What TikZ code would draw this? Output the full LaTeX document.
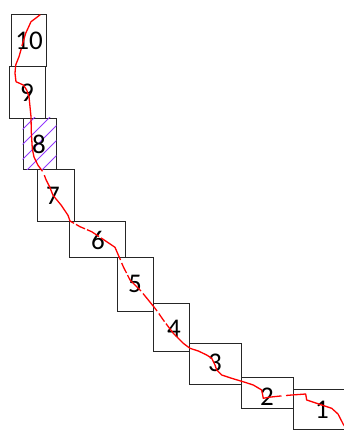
\documentclass[tikz,border=0pt]{standalone}
\usepackage{fontspec}
\setmainfont{Carlito}
\begin{document}
\begin{tikzpicture}[x=1pt,y=-1pt,
  boxnode/.style={draw=black!85,line width=0.9pt,inner sep=0pt,minimum width=#1},
  numtext/.style={inner sep=0pt,font=\fontsize{27}{32}\selectfont},
  trail/.style={draw=red,line width=1.3pt,line join=round,line cap=butt},
  hatchline/.style={draw={rgb,255:red,145;green,55;blue,255},line width=0.9pt}]
\useasboundingbox (0,0) rectangle (344,432);
\clip (0,0) rectangle (344,432);
% boxes
\node[boxnode=35pt,minimum height=52pt] (b10) at (28.5,40) {};
\node[boxnode=36pt,minimum height=52pt] (b9) at (27,92) {};
\node[boxnode=33pt,minimum height=51pt] (b8) at (39.5,143.5) {};
\node[boxnode=37pt,minimum height=52pt] (b7) at (55.5,195) {};
\node[boxnode=56pt,minimum height=36pt] (b6) at (97,239) {};
\node[boxnode=36pt,minimum height=54pt] (b5) at (135,284) {};
\node[boxnode=36pt,minimum height=48pt] (b4) at (171,327) {};
\node[boxnode=52pt,minimum height=41pt] (b3) at (215,363.5) {};
\node[boxnode=52pt,minimum height=31pt] (b2) at (267,392.5) {};
\node[boxnode=58pt,minimum height=40pt] (b1) at (322,409) {};
% hatching of box 8
\begin{scope}
  \clip (b8.south west) rectangle (b8.north east);
  \foreach \s in {152,167,182,197,212}
    {\draw[hatchline] (\s-172,172) -- (\s-115,115);}
\end{scope}
% labels
\node[numtext] (n10) at (29,41) {10};
\node[numtext] (n9) at (27,93) {9};
\node[numtext] (n8) at (39,144) {8};
\node[numtext] (n7) at (53,196) {7};
\node[numtext] (n6) at (98,240) {6};
\node[numtext] (n5) at (135,284) {5};
\node[numtext] (n4) at (174,329) {4};
\node[numtext] (n3) at (215,363) {3};
\node[numtext] (n2) at (267,397) {2};
\node[numtext] (n1) at (322,410) {1};
% red trail
\draw[trail] (40.3,14.7) -- (31,21.7) -- (25.7,33.3) -- (21.9,46);
\draw[trail] (21.2,49) -- (19,56.7) -- (15.7,65) -- (15,73.3) -- (16,81.7) -- (23.3,85) -- (26.7,90) -- (29,96.7) -- (30,106.7) -- (31,116.7) -- (31.3,132) -- (32.3,148.7) -- (34,157) -- (38,165.3) -- (42.5,171.3);
\draw[trail] (44.3,175.2) -- (46.3,180.3) -- (49.7,187) -- (53,195.3) -- (61.3,205.3) -- (68,215.3) -- (70,221) -- (74,223.3);
\draw[trail] (76,224.4) -- (80,226.7) -- (85,228.8);
\draw[trail] (87,229.7) -- (91.7,231.7) -- (99,236.5);
\draw[trail] (101,237.9) -- (106.7,241.7) -- (115,247.3) -- (118.3,255) -- (120.5,260);
\draw[trail] (121.7,263) -- (123.3,266.7) -- (126.5,273);
\draw[trail] (127.5,275) -- (130,280) -- (140,290) -- (141,291);
\draw[trail] (143,293.5) -- (148.3,300) -- (155,308.3) -- (157,311);
\draw[trail] (158.8,313.5) -- (163.3,320) -- (164.5,321.6);
\draw[trail] (166,323.6) -- (173.3,333.3) -- (183.3,343.3) -- (190,348.3) -- (198.3,351) -- (206.7,355) -- (211.7,358.3) -- (215,365) -- (216.7,370) -- (221.7,375) -- (231.7,378.3) -- (245,382.3) -- (253.3,385) -- (261.7,390) -- (263.3,398.3) -- (268.3,397.3) -- (281.5,395.9);
\draw[trail] (286,395.5) -- (291.7,395) -- (305.7,394) -- (306.7,400) -- (316.7,403.3) -- (331.7,408.3) -- (338,414) -- (343.3,424.3) -- (346,428);
\end{tikzpicture}
\end{document}
